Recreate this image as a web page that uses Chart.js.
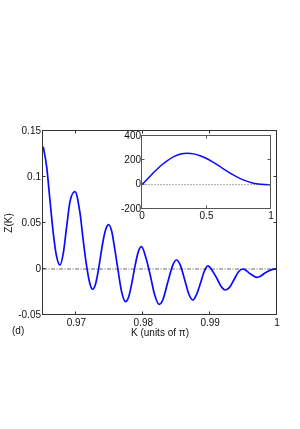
<!DOCTYPE html>
<html>
<head>
<meta charset="utf-8">
<script src="https://cdn.jsdelivr.net/npm/chart.js@4"></script>
<style>
  html,body{margin:0;padding:0;background:#fff;}
  #wrap{position:relative;width:300px;height:429px;}
  #main{position:absolute;left:0;top:0;}
  #inset{position:absolute;left:100px;top:122px;}
</style>
</head>
<body>
<div id="wrap">
  <canvas id="main" width="300" height="429"></canvas>
  <canvas id="inset" width="185" height="110"></canvas>
</div>
<script>
// ---- Main panel data: Z(K) vs K (units of pi) ----
const mainK = [
  0.96504, 0.96555, 0.96604, 0.96654, 0.96704, 0.96754,
  0.96803, 0.96854, 0.96903, 0.96978,
  0.97054, 0.97101, 0.97152, 0.97200, 0.97242,
  0.97285, 0.97325, 0.97400, 0.97440, 0.97480,
  0.97525, 0.97575, 0.97624, 0.97675, 0.97734,
  0.97778, 0.97824, 0.97873, 0.97925, 0.97973,
  0.98040, 0.98105, 0.98170, 0.98236,
  0.98290, 0.98366, 0.98440, 0.98496,
  0.98555, 0.98620, 0.98685, 0.98743,
  0.98795, 0.98855, 0.98910, 0.98967,
  0.99030, 0.99097, 0.99165, 0.99227,
  0.99290, 0.99358, 0.99425, 0.99490,
  0.99540, 0.99590, 0.99645, 0.99699,
  0.99760, 0.99813, 0.99913, 0.99960, 1.00000
];
const mainZ = [
  0.133, 0.111, 0.075, 0.0388, 0.0134, 0.0043,
  0.017, 0.046, 0.073, 0.084,
  0.0605, 0.0315, 0.0035, -0.0154, -0.022,
  -0.0166, -0.0025, 0.031, 0.0434, 0.0483,
  0.0418, 0.021, -0.002, -0.0245, -0.0355,
  -0.031, -0.017, 0.002, 0.0186, 0.0243,
  0.012, -0.007, -0.028, -0.0384,
  -0.034, -0.0145, 0.004, 0.0098,
  0.004, -0.012, -0.028, -0.0337,
  -0.028, -0.0155, -0.003, 0.0033,
  -0.0015, -0.0098, -0.019, -0.0228,
  -0.020, -0.0114, -0.003, 0.0,
  -0.0018, -0.0047, -0.0073, -0.009,
  -0.0075, -0.0047, -0.001, -0.0002, 0.0
];
const mainXTicks = [0.97, 0.98, 0.99, 1];
const mainXTickLabels = ['0.97', '0.98', '0.99', '1'];
const mainYTicks = [-0.05, 0, 0.05, 0.1, 0.15];
const mainYTickLabels = ['-0.05', '0', '0.05', '0.1', '0.15'];
const mainXRange = [0.965, 1];
const mainYRange = [-0.05, 0.15];

// ---- Inset data ----
const insetX = [0, 0.05, 0.1, 0.15, 0.2, 0.25, 0.3, 0.35, 0.4, 0.45, 0.5,
                0.55, 0.6, 0.65, 0.7, 0.75, 0.8, 0.85, 0.9, 0.95, 1];
const insetY = [0, 55, 110, 160, 200, 232, 252, 258, 253, 238, 215,
                185, 152, 117, 84, 56, 33, 15, 5, 1, 0];
const insetXTicks = [0, 0.5, 1];
const insetXTickLabels = ['0', '0.5', '1'];
const insetYTicks = [-200, 0, 200, 400];
const insetYTickLabels = ['-200', '0', '200', '400'];
const insetXRange = [0, 1];
const insetYRange = [-200, 400];

Chart.defaults.font.family = '"Liberation Sans", Arial, Helvetica, sans-serif';
Chart.defaults.font.size = 10;
Chart.defaults.color = '#111';

const framePlugin = {
  id: 'frame',
  beforeDatasetsDraw(chart, args, opts) {
    if (!opts.fill) return;
    const {ctx, chartArea: a} = chart;
    ctx.save();
    ctx.fillStyle = '#fff';
    ctx.fillRect(a.left, a.top, a.right - a.left, a.bottom - a.top);
    ctx.restore();
  },
  afterDraw(chart, args, opts) {
    const {ctx, chartArea: a} = chart;
    const xs = chart.scales.x, ys = chart.scales.y;
    const L = opts.tick || 3;
    ctx.save();
    ctx.strokeStyle = opts.color || '#333';
    ctx.lineWidth = 1;
    const l = Math.round(a.left) - 0.5, r = Math.round(a.right) - 0.5;
    const t = Math.round(a.top) - 0.5, b = Math.round(a.bottom) - 0.5;
    ctx.strokeRect(l, t, r - l, b - t);
    ctx.beginPath();
    xs.ticks.forEach(tk => {
      const p = Math.round(xs.getPixelForValue(tk.value)) - 0.5;
      if (p <= l + 1 || p >= r - 1) return;
      ctx.moveTo(p, b); ctx.lineTo(p, b - L);
      ctx.moveTo(p, t); ctx.lineTo(p, t + L);
    });
    ys.ticks.forEach(tk => {
      const p = Math.round(ys.getPixelForValue(tk.value)) - 0.5;
      if (p <= t + 1 || p >= b - 1) return;
      ctx.moveTo(l, p); ctx.lineTo(l + L, p);
      ctx.moveTo(r, p); ctx.lineTo(r - L, p);
    });
    ctx.stroke();
    if (opts.panelLabel) {
      ctx.fillStyle = '#111';
      ctx.font = '10px "Liberation Sans", Arial, sans-serif';
      ctx.textBaseline = 'middle';
      ctx.textAlign = 'left';
      ctx.fillText(opts.panelLabel, 12, 331);
    }
    ctx.restore();
  }
};

function pts(xs, ys) { return xs.map((x, i) => ({x: x, y: ys[i]})); }
function fixedTicks(vals) { return function(scale) { scale.ticks = vals.map(v => ({value: v})); }; }
function labelFrom(vals, labels) {
  return function(value) { const i = vals.findIndex(v => Math.abs(v - value) < 1e-9); return i >= 0 ? labels[i] : ''; };
}

new Chart(document.getElementById('main'), {
  type: 'line',
  data: {
    datasets: [
      {
        data: pts(mainK, mainZ),
        borderColor: '#0a0aff', borderWidth: 1.7,
        pointRadius: 0, cubicInterpolationMode: 'monotone', fill: false, order: 1
      },
      {
        data: pts(mainXRange, [0, 0]),
        borderColor: '#444', borderWidth: 0.8, borderDash: [4, 1.5, 1, 1.5],
        pointRadius: 0, fill: false, order: 2
      }
    ]
  },
  options: {
    responsive: false, animation: false, devicePixelRatio: 1,
    layout: {padding: {top: 131, right: 23, left: 0, bottom: 0}},
    plugins: {legend: {display: false}, tooltip: {enabled: false},
      frame: {color: '#333', tick: 3, panelLabel: '(d)'}},
    scales: {
      x: {
        type: 'linear', min: mainXRange[0], max: mainXRange[1],
        afterBuildTicks: fixedTicks(mainXTicks),
        afterFit(s) { s.height = 114; },
        grid: {display: false, drawTicks: false},
        border: {display: false},
        ticks: {padding: 2, maxRotation: 0, autoSkip: false, callback: labelFrom(mainXTicks, mainXTickLabels)},
        title: {display: true, text: 'K (units of π)', padding: {top: 0, bottom: 90}, font: {size: 10}}
      },
      y: {
        type: 'linear', min: mainYRange[0], max: mainYRange[1],
        afterBuildTicks: fixedTicks(mainYTicks),
        afterFit(s) { s.width = 43; },
        grid: {display: false, drawTicks: false},
        border: {display: false},
        ticks: {padding: 2, autoSkip: false, callback: labelFrom(mainYTicks, mainYTickLabels)},
        title: {display: true, text: 'Z(K)', padding: {top: 3, bottom: 0}, font: {size: 10}}
      }
    }
  },
  plugins: [framePlugin]
});

new Chart(document.getElementById('inset'), {
  type: 'line',
  data: {
    datasets: [
      {
        data: pts(insetX, insetY),
        borderColor: '#0a0aff', borderWidth: 1.5,
        pointRadius: 0, cubicInterpolationMode: 'monotone', fill: false, order: 1
      },
      {
        data: pts(insetXRange, [0, 0]),
        borderColor: '#aaa', borderWidth: 1, borderDash: [2, 1],
        pointRadius: 0, fill: false, order: 2
      }
    ]
  },
  options: {
    responsive: false, animation: false, devicePixelRatio: 1,
    layout: {padding: {top: 14, right: 14, left: 0, bottom: 0}},
    plugins: {legend: {display: false}, tooltip: {enabled: false},
      frame: {color: '#555', tick: 3, fill: true}},
    scales: {
      x: {
        type: 'linear', min: insetXRange[0], max: insetXRange[1],
        afterBuildTicks: fixedTicks(insetXTicks),
        afterFit(s) { s.height = 23; },
        grid: {display: false, drawTicks: false},
        border: {display: false},
        ticks: {padding: 1, maxRotation: 0, autoSkip: false, callback: labelFrom(insetXTicks, insetXTickLabels)}
      },
      y: {
        type: 'linear', min: insetYRange[0], max: insetYRange[1],
        afterBuildTicks: fixedTicks(insetYTicks),
        afterFit(s) { s.width = 42; },
        grid: {display: false, drawTicks: false},
        border: {display: false},
        ticks: {padding: 1, autoSkip: false, callback: labelFrom(insetYTicks, insetYTickLabels)}
      }
    }
  },
  plugins: [framePlugin]
});
</script>
</body>
</html>
